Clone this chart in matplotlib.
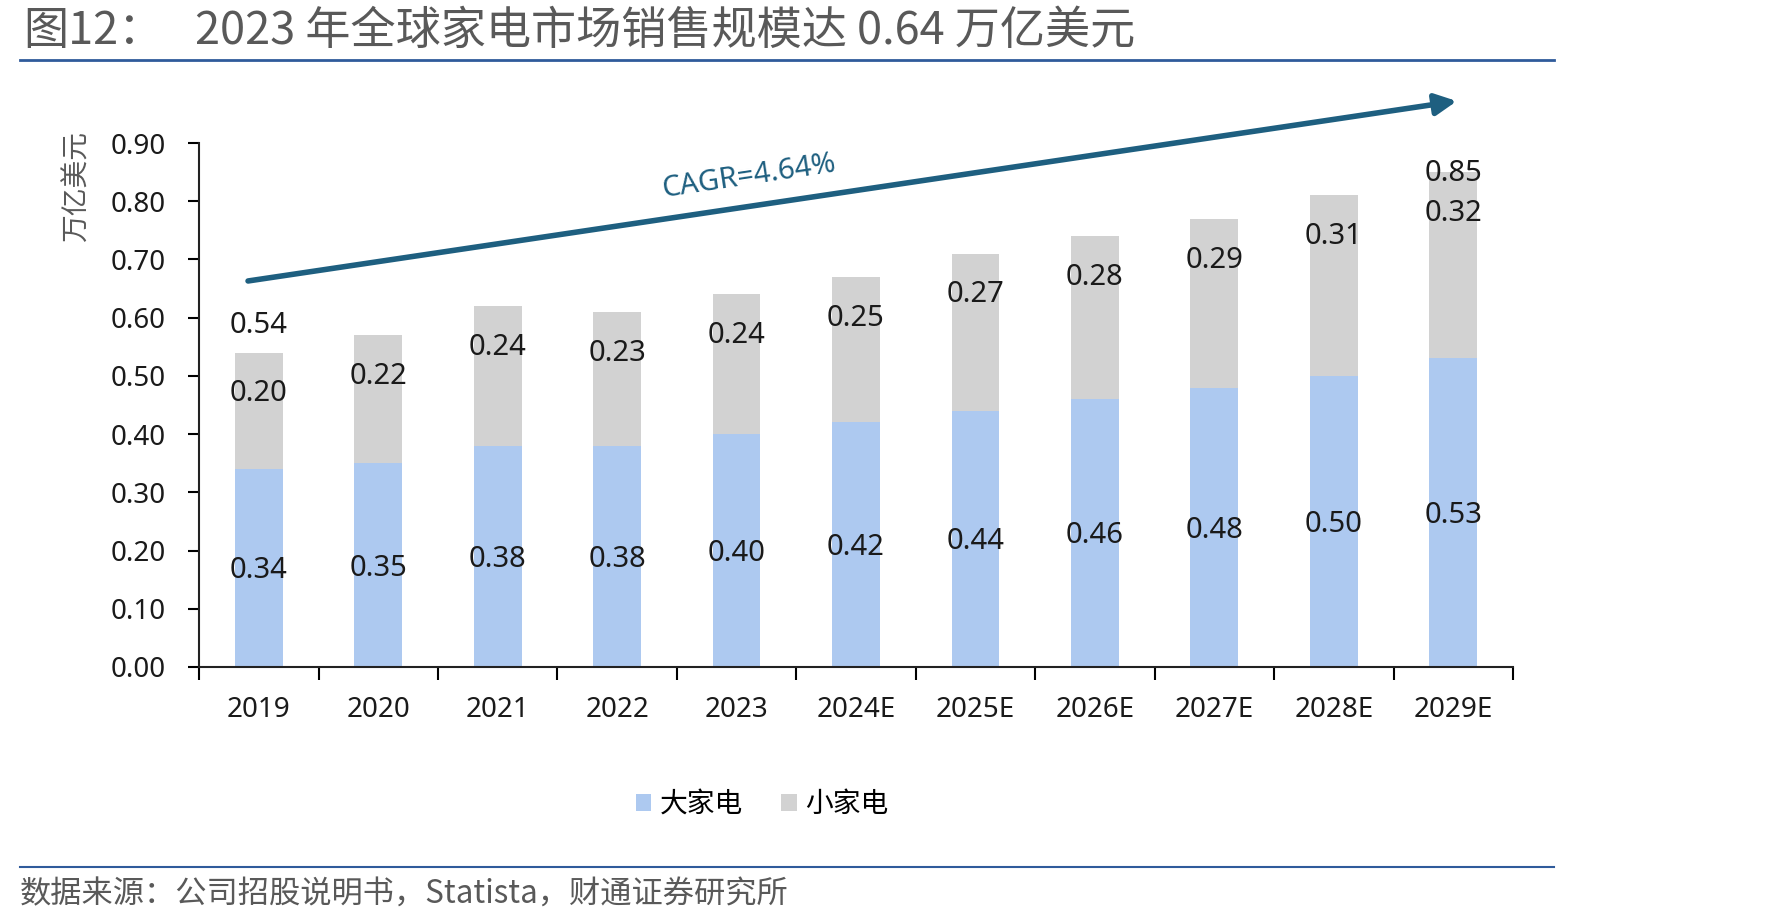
import matplotlib.pyplot as plt
from matplotlib.lines import Line2D
import numpy as np

plt.rcParams['font.family'] = ['Noto Sans', 'Noto Sans CJK SC', 'DejaVu Sans']
cjk = ['Noto Sans CJK SC', 'DejaVu Sans']

# data
years = ['2019', '2020', '2021', '2022', '2023', '2024E', '2025E', '2026E', '2027E', '2028E', '2029E']
big = [0.34, 0.35, 0.38, 0.38, 0.40, 0.42, 0.44, 0.46, 0.48, 0.50, 0.53]
small = [0.20, 0.22, 0.24, 0.23, 0.24, 0.25, 0.27, 0.28, 0.29, 0.31, 0.32]
yticks = [0.0, 0.1, 0.2, 0.3, 0.4, 0.5, 0.6, 0.7, 0.8, 0.9]
total_label_idx = [0, 10]
cagr_text = 'CAGR=4.64%'

blue = '#ADC9F0'
grey = '#D2D2D2'
arrow_c = '#1E5F80'
txt_grey = '#595959'
lab_c = '#1a1a1a'

fig = plt.figure(figsize=(17.71, 9.22), dpi=100)
ax = fig.add_axes([0.1124, 0.2766, 0.7419, 0.5683])

x = np.arange(len(years))
totals = np.array(big) + np.array(small)
w = 0.4
ax.bar(x, big, w, color=blue, label='大家电')
ax.bar(x, small, w, bottom=big, color=grey, label='小家电')

# labels (shifted a touch below centre, as in the source)
for i in range(len(years)):
    ax.text(x[i], big[i] / 2 - 0.005, f'{big[i]:.2f}', ha='center', va='center', fontsize=21, color=lab_c)
    ax.text(x[i], totals[i] - 0.071, f'{small[i]:.2f}', ha='center', va='center', fontsize=21, color=lab_c)
for i, off in zip(total_label_idx, [0.046, -0.003]):
    ax.text(x[i], totals[i] + off, f'{totals[i]:.2f}', ha='center', va='center', fontsize=21, color=lab_c)

# CAGR arrow
ax.annotate('', xy=(10.03, 0.972), xytext=(-0.09, 0.663),
            arrowprops=dict(arrowstyle='-|>', lw=4, color=arrow_c, mutation_scale=32, shrinkA=0, shrinkB=0),
            annotation_clip=False)
ax.text(4.1, 0.843, cagr_text, ha='center', va='center', rotation=8.5, fontsize=21, color=arrow_c)

ax.set_xlim(-0.5, len(years) - 0.5)
ax.set_ylim(0, 0.9)
ax.set_yticks(yticks)
ax.set_yticklabels([f'{v:.2f}' for v in yticks], fontsize=20, color=lab_c)
ax.set_xticks(x)
ax.set_xticklabels(years, fontsize=20, color=lab_c)
ax.set_xticks(np.arange(-0.5, len(years)), minor=True)
ax.tick_params(axis='x', which='major', length=0, pad=21)
ax.tick_params(axis='x', which='minor', length=9, width=1.5, direction='out')
ax.tick_params(axis='y', length=8, width=1.5, direction='out', pad=16)
for s in ['top', 'right']:
    ax.spines[s].set_visible(False)
for s in ['left', 'bottom']:
    ax.spines[s].set_linewidth(1.5)
    ax.spines[s].set_color('#222222')

fig.text(77 / 1771, 1 - 187 / 922, '万亿美元', rotation=90, ha='center', va='center', fontsize=20,
         color=txt_grey, family=cjk)

# legend
ax.legend(loc='center', bbox_to_anchor=(762 / 1771, 1 - 804 / 922), bbox_transform=fig.transFigure,
          ncol=2, frameon=False, prop={'family': cjk, 'size': 20}, handlelength=0.55, handleheight=0.55,
          handletextpad=0.3, columnspacing=1.4)

# title, footer, rules
fig.text(23 / 1771, 1 - 31 / 922, '图12：', ha='left', va='center', fontsize=32.5, color=txt_grey, family=cjk)
fig.text(195 / 1771, 1 - 31 / 922, '2023 年全球家电市场销售规模达 0.64 万亿美元', ha='left', va='center',
         fontsize=32.5, color=txt_grey, family=cjk)
fig.add_artist(Line2D([20 / 1771, 1554 / 1771], [1 - 60 / 922] * 2, color='#2F5B9B', lw=2))
fig.add_artist(Line2D([20 / 1771, 1554 / 1771], [1 - 867 / 922] * 2, color='#2F5B9B', lw=1.5))
fig.text(20 / 1771, 1 - 895 / 922, '数据来源：公司招股说明书，Statista，财通证券研究所', ha='left', va='center',
         fontsize=22.5, color=txt_grey, family=cjk)

fig.savefig('out.png', dpi=100)
